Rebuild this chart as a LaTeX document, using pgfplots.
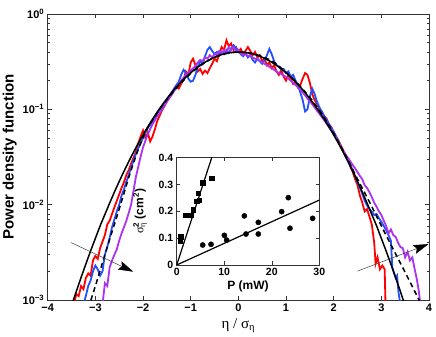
\documentclass[border=0pt]{standalone}
\usepackage{fontspec}
\setmainfont{Liberation Sans}
\newfontfamily\grk{Liberation Serif}
\usepackage{pgfplots}
\pgfplotsset{compat=1.18}
\usetikzlibrary{arrows.meta}
\definecolor{cred}{RGB}{255,0,0}
\definecolor{cblue}{RGB}{35,80,255}
\definecolor{cpurple}{RGB}{170,50,240}
\begin{document}
\begin{tikzpicture}
\useasboundingbox (-47.7pt,-37pt) rectangle (388.3pt,300pt);
\begin{axis}[
 scale only axis, width=381.3pt, height=286pt,
 xmin=-4, xmax=4, ymode=log, ymin=1e-3, ymax=1,
 xtick={-4,-3,-2,-1,0,1,2,3,4},
 xticklabels={−4,−3,−2,−1,0,1,2,3,4},
 ytick={0.001,0.01,0.1,1},
 yticklabels={10\textsuperscript{−3},10\textsuperscript{−2},10\textsuperscript{−1},10\textsuperscript{0}},
 minor ytick={0.002,0.003,0.004,0.005,0.006,0.007,0.008,0.009,0.02,0.03,0.04,0.05,0.06,0.07,0.08,0.09,0.2,0.3,0.4,0.5,0.6,0.7,0.8,0.9},
 tick align=inside,
 axis line style={line width=0.6pt, black!80},
 tick style={black!80, line width=0.5pt},
 major tick length=4pt, minor tick length=2.5pt,
 ticklabel style={font=\fontsize{11}{13}\selectfont\bfseries},
 xlabel={\grk η / σ\textsubscript{η}},
 xlabel style={font=\fontsize{15}{18}\selectfont, at={(axis description cs:0.5,-0.0979)}, anchor=base},
 ylabel={Power density function},
 ylabel style={font=\fontsize{15}{18}\selectfont\bfseries, at={(axis description cs:-0.0997,0.5)}, anchor=center},
]
% red
\addplot[cred, line width=1.8pt] table {
-3.45 0.0009
-3.40 0.00115
-3.35 0.0011
-3.30 0.0014
-3.25 0.0013
-3.20 0.0017
-3.15 0.0019
-3.10 0.0018
-3.05 0.0026
-3.00 0.0029
-2.95 0.0027
-2.90 0.0035
-2.85 0.0041
-2.80 0.0048
-2.75 0.0062
-2.70 0.0068
-2.65 0.0080
-2.60 0.0094
-2.55 0.0110
-2.50 0.0128
-2.45 0.0150
-2.40 0.0172
-2.35 0.0205
-2.30 0.0230
-2.25 0.0270
-2.20 0.0310
-2.15 0.0360
-2.10 0.0440
-2.05 0.0520
-2.00 0.0600
-1.95 0.0500
-1.90 0.0570
-1.85 0.0460
-1.80 0.0520
-1.75 0.0620
-1.70 0.0760
-1.65 0.0860
-1.60 0.0980
-1.55 0.1080
-1.50 0.1220
-1.45 0.1350
-1.40 0.1480
-1.35 0.1600
-1.30 0.1720
-1.25 0.1650
-1.20 0.1850
-1.15 0.2050
-1.10 0.2500
-1.05 0.2300
-1.00 0.3100
-0.95 0.3400
-0.90 0.2900
-0.85 0.2500
-0.80 0.2650
-0.75 0.2350
-0.70 0.2550
-0.65 0.2400
-0.60 0.2700
-0.55 0.3000
-0.50 0.3400
-0.45 0.3200
-0.40 0.3800
-0.35 0.4500
-0.30 0.4200
-0.25 0.5300
-0.20 0.4600
-0.15 0.4900
-0.10 0.4200
-0.05 0.4500
0.00 0.4000
0.05 0.4300
0.10 0.3800
0.15 0.4100
0.20 0.4500
0.25 0.4100
0.30 0.3700
0.35 0.4000
0.40 0.3500
0.45 0.3700
0.50 0.3200
0.55 0.3400
0.60 0.2900
0.65 0.3100
0.70 0.2700
0.75 0.2900
0.80 0.2500
0.85 0.2300
0.90 0.2600
0.95 0.2200
1.00 0.2000
1.05 0.2300
1.10 0.2100
1.15 0.1850
1.20 0.1950
1.25 0.1700
1.30 0.1800
1.35 0.2100
1.40 0.2400
1.45 0.2300
1.50 0.1900
1.55 0.1450
1.60 0.1250
1.65 0.1150
1.70 0.1000
1.75 0.0950
1.80 0.0850
1.85 0.0800
1.90 0.0700
1.95 0.0650
2.00 0.0580
2.05 0.0520
2.10 0.0470
2.15 0.0420
2.20 0.0370
2.25 0.0330
2.30 0.0300
2.35 0.0250
2.40 0.0220
2.45 0.0185
2.50 0.0160
2.55 0.0125
2.60 0.0105
2.65 0.0085
2.70 0.0090
2.75 0.0075
2.80 0.0062
2.85 0.0040
2.88 0.0024
2.92 0.0028
2.97 0.0021
3.02 0.0023
3.07 0.0021
3.09 0.0008
};
% blue
\addplot[cblue, line width=1.8pt] table {
-3.25 0.0009
-3.20 0.0011
-3.15 0.0014
-3.10 0.0016
-3.05 0.0020
-3.00 0.0023
-2.95 0.0021
-2.90 0.0018
-2.85 0.0020
-2.80 0.0030
-2.75 0.0036
-2.70 0.0045
-2.65 0.0058
-2.60 0.0070
-2.55 0.0085
-2.50 0.0100
-2.45 0.0125
-2.40 0.0145
-2.35 0.0175
-2.30 0.0205
-2.25 0.0245
-2.20 0.0290
-2.15 0.0340
-2.10 0.0390
-2.05 0.0440
-2.00 0.0500
-1.95 0.0570
-1.90 0.0650
-1.85 0.0680
-1.80 0.0760
-1.75 0.0830
-1.70 0.0920
-1.65 0.0980
-1.60 0.1080
-1.55 0.1150
-1.50 0.1250
-1.45 0.1380
-1.40 0.1500
-1.35 0.1650
-1.30 0.1800
-1.25 0.1950
-1.20 0.2300
-1.15 0.2600
-1.10 0.2400
-1.05 0.2100
-1.00 0.1950
-0.95 0.2000
-0.90 0.2300
-0.85 0.2800
-0.80 0.3200
-0.75 0.3000
-0.70 0.3600
-0.65 0.4200
-0.60 0.4500
-0.55 0.4100
-0.50 0.3800
-0.45 0.4000
-0.40 0.3700
-0.35 0.4000
-0.30 0.3800
-0.25 0.4200
-0.20 0.3900
-0.15 0.4300
-0.10 0.4700
-0.05 0.4400
0.00 0.4100
0.05 0.3800
0.10 0.3600
0.15 0.3900
0.20 0.3500
0.25 0.3700
0.30 0.3300
0.35 0.3100
0.40 0.3400
0.45 0.3200
0.50 0.3000
0.55 0.3300
0.60 0.3700
0.65 0.4300
0.70 0.3800
0.75 0.3200
0.80 0.2900
0.85 0.2800
0.90 0.2600
0.95 0.2650
1.00 0.2400
1.05 0.2500
1.10 0.2200
1.15 0.2300
1.20 0.2000
1.25 0.1800
1.30 0.1500
1.35 0.1250
1.40 0.0950
1.45 0.1000
1.50 0.1350
1.55 0.1650
1.60 0.1450
1.65 0.1200
1.70 0.1050
1.75 0.0950
1.80 0.0850
1.85 0.0780
1.90 0.0700
1.95 0.0640
2.00 0.0580
2.05 0.0520
2.10 0.0460
2.15 0.0410
2.20 0.0360
2.25 0.0320
2.30 0.0290
2.35 0.0260
2.40 0.0230
2.45 0.0200
2.50 0.0170
2.55 0.0150
2.60 0.0130
2.65 0.0110
2.70 0.0098
2.75 0.0090
2.80 0.0085
2.85 0.0078
2.90 0.0080
2.95 0.0072
3.00 0.0066
3.05 0.0060
3.10 0.0054
3.15 0.0048
3.20 0.0042
3.23 0.0022
3.27 0.0019
3.30 0.0017
3.33 0.0018
3.36 0.0012
3.40 0.0009
};
% purple
\addplot[cpurple, line width=1.8pt] table {
-2.85 0.0009
-2.80 0.0015
-2.75 0.0014
-2.70 0.0022
-2.65 0.0026
-2.60 0.0030
-2.55 0.0034
-2.50 0.0042
-2.45 0.0050
-2.40 0.0058
-2.35 0.0068
-2.30 0.0082
-2.25 0.0100
-2.20 0.0140
-2.15 0.0195
-2.10 0.0250
-2.05 0.0320
-2.00 0.0400
-1.95 0.0470
-1.90 0.0550
-1.85 0.0620
-1.80 0.0700
-1.75 0.0770
-1.70 0.0850
-1.65 0.0920
-1.60 0.1000
-1.55 0.1100
-1.50 0.1200
-1.45 0.1300
-1.40 0.1420
-1.35 0.1550
-1.30 0.1680
-1.25 0.1850
-1.20 0.2000
-1.15 0.2150
-1.10 0.2300
-1.05 0.2400
-1.00 0.2550
-0.95 0.2700
-0.90 0.2850
-0.85 0.3100
-0.80 0.3300
-0.75 0.3200
-0.70 0.3500
-0.65 0.3400
-0.60 0.3700
-0.55 0.3500
-0.50 0.3800
-0.45 0.3700
-0.40 0.4100
-0.35 0.3900
-0.30 0.4200
-0.25 0.4000
-0.20 0.4500
-0.15 0.4200
-0.10 0.4500
-0.05 0.4100
0.00 0.4200
0.05 0.3900
0.10 0.3700
0.15 0.3800
0.20 0.3600
0.25 0.3700
0.30 0.3500
0.35 0.3400
0.40 0.3350
0.45 0.3200
0.50 0.3150
0.55 0.3000
0.60 0.2900
0.65 0.2800
0.70 0.2700
0.75 0.2600
0.80 0.2500
0.85 0.2400
0.90 0.2350
0.95 0.2250
1.00 0.2200
1.05 0.2100
1.10 0.2000
1.15 0.1900
1.20 0.1800
1.25 0.1700
1.30 0.1600
1.35 0.1500
1.40 0.1400
1.45 0.1300
1.50 0.1220
1.55 0.1130
1.60 0.1050
1.65 0.0970
1.70 0.0900
1.75 0.0830
1.80 0.0770
1.85 0.0710
1.90 0.0650
1.95 0.0600
2.00 0.0550
2.05 0.0500
2.10 0.0455
2.15 0.0410
2.20 0.0370
2.25 0.0335
2.30 0.0310
2.35 0.0285
2.40 0.0260
2.45 0.0240
2.50 0.0220
2.55 0.0200
2.60 0.0185
2.65 0.0160
2.70 0.0150
2.75 0.0135
2.80 0.0120
2.85 0.0105
2.90 0.0095
2.95 0.0085
3.00 0.0078
3.05 0.0068
3.10 0.0060
3.15 0.0050
3.20 0.0055
3.25 0.0048
3.30 0.0046
3.35 0.0040
3.40 0.0036
3.45 0.0035
3.50 0.0028
3.55 0.0032
3.60 0.0026
3.65 0.0028
3.70 0.0021
3.74 0.0017
3.78 0.0013
3.82 0.0009
};
% dashed
\addplot[black, line width=1.5pt, dash pattern=on 5pt off 3.5pt, smooth] table {
-3.15 0.00082
-3.00 0.0014
-2.75 0.0036
-2.50 0.0090
-2.25 0.0230
-2.00 0.051
-1.75 0.084
-1.50 0.126
-1.25 0.178
-1.00 0.238
-0.75 0.298
-0.50 0.350
-0.25 0.386
0.00 0.399
0.25 0.390
0.50 0.358
0.75 0.312
1.00 0.244
1.25 0.185
1.50 0.133
1.75 0.090
2.00 0.056
2.25 0.0330
2.50 0.0186
2.75 0.0107
3.00 0.0060
3.25 0.0034
3.50 0.00195
3.75 0.0011
3.85 0.00088
};
% solid gaussian fit
\addplot[black, line width=1.5pt] table {
-3.6 0.00061
-3.5 0.00087
-3.4 0.00123
-3.3 0.00172
-3.2 0.00238
-3.1 0.00327
-3.0 0.00443
-2.9 0.0060
-2.8 0.0079
-2.7 0.0104
-2.6 0.0136
-2.5 0.0175
-2.4 0.0224
-2.3 0.0283
-2.2 0.0355
-2.1 0.0440
-2.0 0.0540
-1.9 0.0656
-1.8 0.0790
-1.7 0.0940
-1.6 0.1109
-1.5 0.1295
-1.4 0.1497
-1.3 0.1714
-1.2 0.1942
-1.1 0.2179
-1.0 0.2420
-0.9 0.2661
-0.8 0.2897
-0.7 0.3123
-0.6 0.3332
-0.5 0.3521
-0.4 0.3683
-0.3 0.3814
-0.2 0.3910
-0.1 0.3970
0.0 0.3989
0.1 0.3970
0.2 0.3910
0.3 0.3814
0.4 0.3683
0.5 0.3521
0.6 0.3332
0.7 0.3123
0.8 0.2897
0.9 0.2661
1.0 0.2420
1.1 0.2179
1.2 0.1942
1.3 0.1714
1.4 0.1497
1.5 0.1295
1.6 0.1109
1.7 0.0940
1.8 0.0790
1.9 0.0656
2.0 0.0540
2.1 0.0440
2.2 0.0355
2.3 0.0283
2.4 0.0224
2.5 0.0175
2.6 0.0136
2.7 0.0104
2.8 0.0079
2.9 0.0060
3.0 0.00443
3.1 0.00327
3.2 0.00238
3.3 0.00172
3.4 0.00123
3.5 0.00087
3.6 0.00061
};
\draw[black!75, line width=0.5pt, -{Stealth[length=15pt,width=9pt,inset=2.5pt,black]}] (axis cs:-3.51,0.0040) -- (axis cs:-2.205,0.00198);
\draw[black!75, line width=0.5pt, -{Stealth[length=15pt,width=9pt,inset=2.5pt,black]}] (axis cs:2.50,0.00201) -- (axis cs:3.99,0.00386);
\end{axis}
\begin{axis}[
 at={(129pt,35pt)}, anchor=south west,
 scale only axis, width=142.6pt, height=107.3pt,
 xmin=0, xmax=30, ymin=0, ymax=0.4,
 xtick={0,10,20,30}, xticklabels={0,10,20,30},
 ytick={0,0.1,0.2,0.3,0.4}, yticklabels={0,0.1,0.2,0.3,0.4},
 tick align=inside,
 axis background/.style={fill=white},
 axis line style={line width=0.6pt, black!80},
 tick style={black!80, line width=0.5pt},
 major tick length=3.5pt,
 ticklabel style={font=\fontsize{10.5}{12}\selectfont\bfseries},
 xlabel={P (mW)},
 xlabel style={font=\fontsize{12}{14}\selectfont\bfseries, at={(axis description cs:0.5,-0.224)}, anchor=base},
 ylabel={{\grk\mdseries σ}\rlap{\textsuperscript{2}}\textsubscript{\grk\mdseries η} (cm\textsuperscript{2})},
 ylabel style={font=\fontsize{12}{14}\selectfont\bfseries, at={(axis description cs:-0.257,0.5)}, anchor=center},
]
\addplot[black, line width=1.2pt] coordinates {(0,0) (8,0.4345)};
\addplot[black, line width=1.2pt] coordinates {(0,0) (30,0.242)};
\addplot[only marks, mark=square*, mark size=2.3pt, black] coordinates {
(0.70,0.091) (0.84,0.106) (1.75,0.186) (2.94,0.186) (3.5,0.207) (4.2,0.238) (4.56,0.267) (4.77,0.242) (5.47,0.307) (7.36,0.323)};
\addplot[only marks, mark=*, mark size=2.6pt, black] coordinates {
(5.47,0.0745) (7.22,0.077) (10.02,0.1106) (10.5,0.093) (14.23,0.183) (14.58,0.1155) (17.17,0.159) (17.17,0.1155) (22.08,0.199) (23.48,0.251) (23.83,0.137) (28.6,0.174)};
\end{axis}
\end{tikzpicture}
\end{document}
